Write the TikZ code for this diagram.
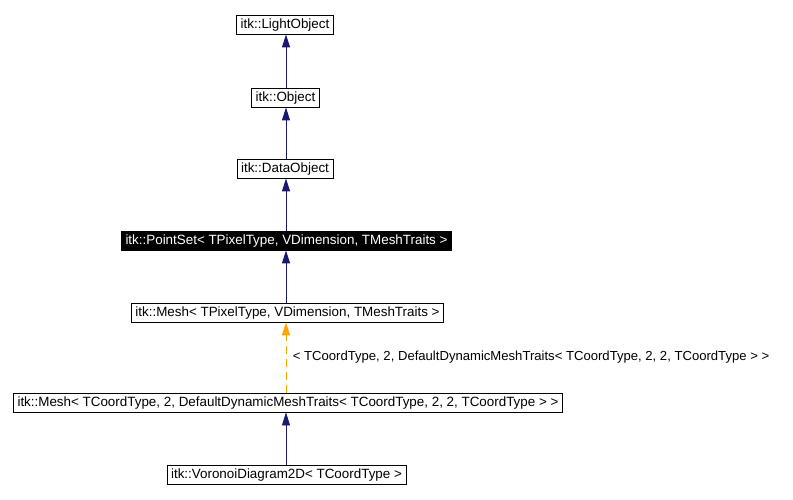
\documentclass[tikz,border=0pt]{standalone}
\usepackage{fontspec}
\setmainfont{Liberation Sans}
\usepackage{tikz}
\usetikzlibrary{arrows.meta}

\definecolor{navy}{HTML}{191970}
\definecolor{tplorange}{HTML}{FFA500}

\tikzset{
    cls/.style={draw=black, fill=white, line width=0.8pt, inner xsep=4pt, inner ysep=0pt,
        minimum height=19pt, text height=9.5pt, text depth=1.5pt, font=\fontsize{13.4}{15}\selectfont},
    clsmark/.style={cls, fill=black, text=white},
    inh/.style={navy, line width=1pt, -{Triangle[length=13pt, width=8pt]}},
    tpl/.style={tplorange, line width=1pt, dash pattern=on 8pt off 5pt,
        -{Triangle[length=13pt, width=8pt]}}
}

\begin{document}
\begin{tikzpicture}[x=1pt, y=-1pt]
    \useasboundingbox[fill=white] (0,0) rectangle (793,499);

    \node[cls] (light) at (285,24.5) {itk::LightObject};
    \node[cls] (object) at (285.5,97.5) {itk::Object};
    \node[cls] (data) at (285,168.5) {itk::DataObject};
    \node[clsmark] (pointset) at (286.5,240.5) {itk::PointSet< TPixelType, VDimension, TMeshTraits >};
    \node[cls] (mesh) at (287.5,312.5) {itk::Mesh< TPixelType, VDimension, TMeshTraits >};
    \node[cls] (meshcoord) at (288,402.5) {itk::Mesh< TCoordType, 2, DefaultDynamicMeshTraits< TCoordType, 2, 2, TCoordType > >};
    \node[cls] (voronoi) at (286.5,474.5) {itk::VoronoiDiagram2D< TCoordType >};

    \draw[inh] (object.north -| 286,0) -- (light.south -| 286,0);
    \draw[inh] (data.north -| 286,0) -- (object.south -| 286,0);
    \draw[inh] (pointset.north -| 286,0) -- (data.south -| 286,0);
    \draw[inh] (mesh.north -| 286,0) -- (pointset.south -| 286,0);
    \draw[tpl] (meshcoord.north -| 286,0) -- (mesh.south -| 286,0)
        node[midway, right=3pt, font=\fontsize{13.1}{15}\selectfont, black]
        {< TCoordType, 2, DefaultDynamicMeshTraits< TCoordType, 2, 2, TCoordType > >};
    \draw[inh, line width=0.6pt] (voronoi.north -| 286,0) -- (meshcoord.south -| 286,0);
\end{tikzpicture}
\end{document}
